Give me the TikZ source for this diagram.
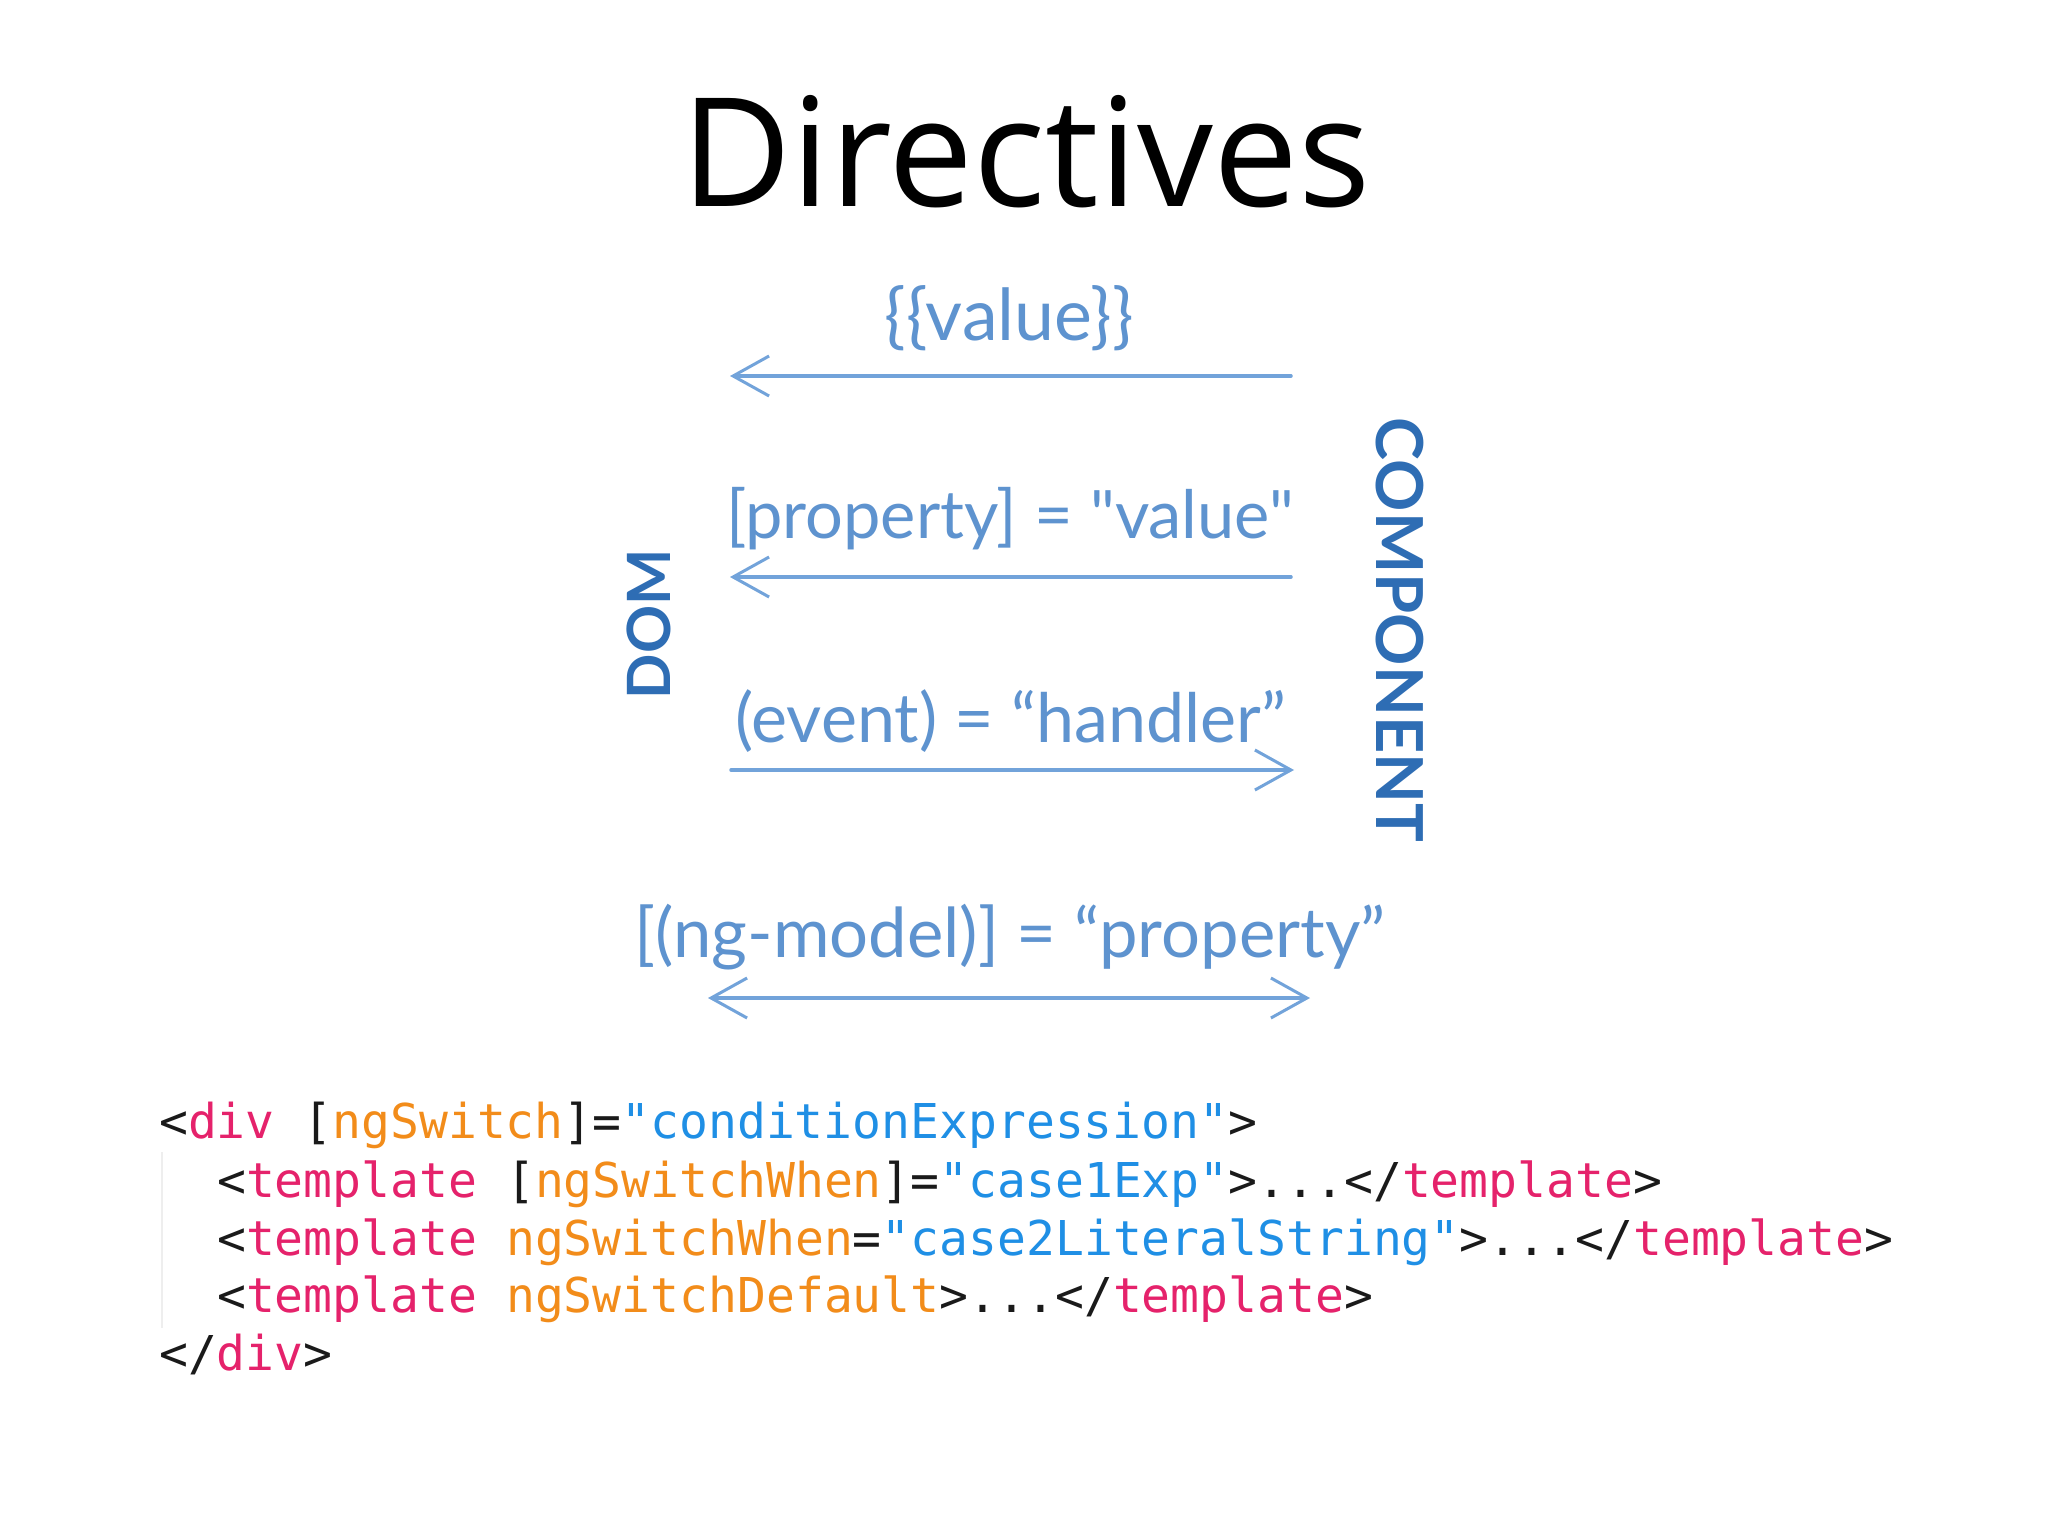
\documentclass[tikz,border=0pt]{standalone}
\usepackage{fontspec}
\usepackage{graphicx}
\usetikzlibrary{arrows.meta}
\newfontfamily\titlefont{Open Sans}
\newfontfamily\handfont{Lato}
\newfontfamily\codefont{DejaVu Sans Mono}
\definecolor{handblue}{HTML}{5E93CF}
\definecolor{arrowblue}{HTML}{72A3DA}
\definecolor{sideblue}{HTML}{2E6DB4}
\definecolor{tagpink}{HTML}{E5226B}
\definecolor{attrorange}{HTML}{F28C1A}
\definecolor{strblue}{HTML}{1F8FE5}
\definecolor{codeblack}{HTML}{1A1A1A}
\definecolor{guidegray}{HTML}{EEEEEE}
\newcommand\tagc[1]{\textcolor{tagpink}{#1}}
\newcommand\attrc[1]{\textcolor{attrorange}{#1}}
\newcommand\strc[1]{\textcolor{strblue}{#1}}
\tikzset{
  hand/.style={inner sep=0pt, anchor=base, text=handblue, font=\handfont},
  side/.style={inner sep=0pt, text=sideblue, font=\handfont\bfseries},
  codeline/.style={inner sep=0pt, anchor=base west, text=codeblack, font=\codefont\fontsize{48}{58}\selectfont},
  harrow/.style={draw=arrowblue, line width=3.5pt, line cap=round, -{Straight Barb[length=36pt,width=40pt,line width=3pt]}},
  darrow/.style={draw=arrowblue, line width=3.5pt, line cap=round, {Straight Barb[length=36pt,width=40pt,line width=3pt]}-{Straight Barb[length=36pt,width=40pt,line width=3pt]}}
}
\begin{document}
\begin{tikzpicture}[x=1pt,y=-1pt]
\fill[white] (0,0) rectangle (2048,1536);
\useasboundingbox (0,0) rectangle (2048,1536);
% title
\node[inner sep=0pt, anchor=base] (title) at (1026,206) {\resizebox{689pt}{!}{\titlefont Directives}};
% handwritten labels
\node[hand] (lvalue) at (1009,340) {\resizebox{249pt}{!}{\{\{value\}\}}};
\node[hand] (lprop) at (1010,538) {\resizebox{567pt}{!}{[property] = "value"}};
\node[hand] (levent) at (1011,742) {\resizebox{551pt}{!}{(event) = “handler”}};
\node[hand] (lmodel) at (1010,957) {\resizebox{751pt}{!}{[(ng-model)] = “property”}};
% side labels
\node[side, rotate=90] (dom) at (649,624) {\resizebox{150pt}{!}{DOM}};
\node[side, rotate=-90] (comp) at (1400,630) {\resizebox{424pt}{!}{COMPONENT}};
% arrows
\coordinate (a1r) at (1291,376);
\coordinate (a1l) at (730,376);
\coordinate (a2r) at (1291,577);
\coordinate (a2l) at (730,577);
\coordinate (a3l) at (731,770);
\coordinate (a3r) at (1294,770);
\coordinate (a4l) at (708,998);
\coordinate (a4r) at (1310,998);
\draw[harrow] (a1r) -- (a1l);
\draw[harrow] (a2r) -- (a2l);
\draw[harrow] (a3l) -- (a3r);
\draw[darrow] (a4l) -- (a4r);
% code
\coordinate (g1) at (162,1152);
\coordinate (g2) at (162,1328);
\draw[guidegray, line width=2pt] (g1) -- (g2);
\node[codeline] (c1) at (159,1138) {<\tagc{div} [\attrc{ngSwitch}]=\strc{"conditionExpression"}>};
\node[codeline] (c2) at (217,1197) {<\tagc{template} [\attrc{ngSwitchWhen}]=\strc{"case1Exp"}>...</\tagc{template}>};
\node[codeline] (c3) at (217,1255) {<\tagc{template} \attrc{ngSwitchWhen}=\strc{"case2LiteralString"}>...</\tagc{template}>};
\node[codeline] (c4) at (217,1312) {<\tagc{template} \attrc{ngSwitchDefault}>...</\tagc{template}>};
\node[codeline] (c5) at (159,1370) {</\tagc{div}>};
\end{tikzpicture}
\end{document}
